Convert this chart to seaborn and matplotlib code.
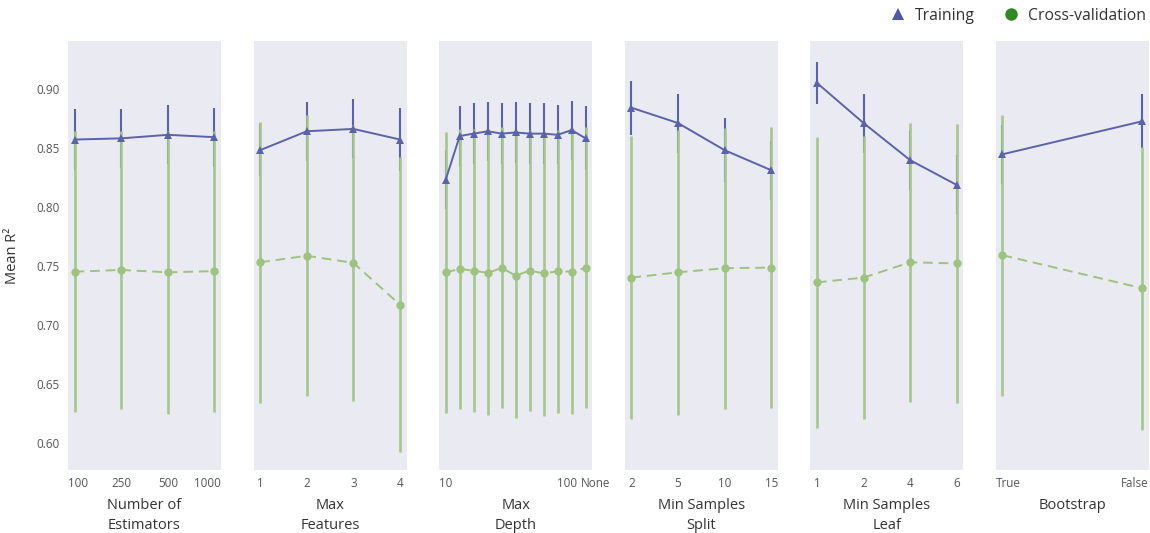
import numpy as np
import pandas as pd
import matplotlib
matplotlib.use("Agg")
import matplotlib.pyplot as plt
from matplotlib.lines import Line2D
from matplotlib.transforms import Affine2D
import seaborn as sns

# ---------------- data ----------------
panel_titles = ["Number of\nEstimators", "Max\nFeatures", "Max\nDepth",
                "Min Samples\nSplit", "Min Samples\nLeaf", "Bootstrap"]

est_labels = ["100", "250", "500", "1000"]
est_train = [0.857, 0.858, 0.861, 0.859]
est_train_err = [0.026, 0.025, 0.025, 0.025]
est_cv = [0.745, 0.7465, 0.7445, 0.7455]
est_cv_err = [0.119, 0.118, 0.120, 0.119]

feat_labels = ["1", "2", "3", "4"]
feat_train = [0.848, 0.864, 0.866, 0.857]
feat_train_err = [0.022, 0.025, 0.025, 0.027]
feat_cv = [0.753, 0.7585, 0.7525, 0.717]
feat_cv_err = [0.119, 0.119, 0.117, 0.125]

depth_labels = ["10", "20", "30", "40", "50", "60", "70", "80", "90", "100", "None"]
depth_shown = ["10", "100", "None"]
depth_train = [0.823, 0.860, 0.862, 0.864, 0.862, 0.863, 0.862, 0.862, 0.861, 0.865, 0.858]
depth_train_err = [0.025, 0.025, 0.026, 0.025, 0.026, 0.026, 0.026, 0.026, 0.025, 0.025, 0.027]
depth_cv = [0.7445, 0.7473, 0.7459, 0.7440, 0.7482, 0.7417, 0.7459, 0.7436, 0.7453, 0.7451, 0.7482]
depth_cv_err = [0.119, 0.119, 0.120, 0.120, 0.119, 0.121, 0.119, 0.121, 0.120, 0.121, 0.119]

split_labels = ["2", "5", "10", "15"]
split_train = [0.884, 0.871, 0.848, 0.831]
split_train_err = [0.023, 0.025, 0.027, 0.025]
split_cv = [0.740, 0.7445, 0.748, 0.7485]
split_cv_err = [0.120, 0.121, 0.119, 0.119]

leaf_labels = ["1", "2", "4", "6"]
leaf_train = [0.905, 0.871, 0.8395, 0.8185]
leaf_train_err = [0.0175, 0.025, 0.025, 0.025]
leaf_cv = [0.736, 0.740, 0.753, 0.752]
leaf_cv_err = [0.123, 0.120, 0.118, 0.118]

boot_labels = ["True", "False"]
boot_train = [0.8445, 0.8725]
boot_train_err = [0.025, 0.023]
boot_cv = [0.759, 0.731]
boot_cv_err = [0.119, 0.120]

y_ticks = [0.60, 0.65, 0.70, 0.75, 0.80, 0.85, 0.90]

panels = [
    (est_labels, est_labels, est_train, est_train_err, est_cv, est_cv_err),
    (feat_labels, feat_labels, feat_train, feat_train_err, feat_cv, feat_cv_err),
    (depth_labels, depth_shown, depth_train, depth_train_err, depth_cv, depth_cv_err),
    (split_labels, split_labels, split_train, split_train_err, split_cv, split_cv_err),
    (leaf_labels, leaf_labels, leaf_train, leaf_train_err, leaf_cv, leaf_cv_err),
    (boot_labels, boot_labels, boot_train, boot_train_err, boot_cv, boot_cv_err),
]

# ---------------- style ----------------
sns.set_style("dark")
plt.rcParams["font.family"] = ["Open Sans", "DejaVu Sans"]

BLUE = "#5a63a9"
GREEN = "#a5c78c"
GREEN_MK = "#9ec37f"
TXT = "#333333"
TICK = "#555555"

fig, axes = plt.subplots(1, 6, figsize=(11.5, 5.33), dpi=100, sharey=True)
fig.subplots_adjust(left=0.0591, right=0.9991, bottom=0.1182, top=0.9231, wspace=0.2125)

for i, (ax, (labels, shown, tr, tr_e, cv, cv_e)) in enumerate(zip(axes, panels)):
    n = len(labels)
    df = pd.DataFrame({
        "pos": np.arange(n),
        "train": tr, "train_err": tr_e,
        "cv": cv, "cv_err": cv_e,
    })
    # error bars
    ax.vlines(df["pos"], df["train"] - df["train_err"], df["train"] + df["train_err"],
              color=BLUE, lw=1.5, zorder=1)
    ax.vlines(df["pos"], df["cv"] - df["cv_err"], df["cv"] + df["cv_err"],
              color=GREEN, lw=1.9, zorder=2)
    # lines
    sns.lineplot(data=df, x="pos", y="train", ax=ax, color=BLUE, marker="^",
                 markersize=5.8, markeredgewidth=0, linewidth=1.4, zorder=3)
    sns.lineplot(data=df, x="pos", y="cv", ax=ax, color=GREEN_MK, marker="o",
                 markersize=6, markeredgewidth=0, linewidth=1.4, linestyle=(0, (5, 3)),
                 zorder=4)
    pad = 0.047 * (n - 1)
    ax.set_xlim(-pad, n - 1 + pad)
    ticks = [labels.index(s) for s in shown]
    ax.set_xticks(ticks)
    ax.set_xticklabels(shown)
    ax.set_xlabel(panel_titles[i], fontsize=10.5, color=TXT, labelpad=6, linespacing=1.4)
    ax.tick_params(axis="x", length=0, pad=5, labelsize=8.4, labelcolor=TICK)
    ax.tick_params(axis="y", length=0, pad=6, labelsize=8.4, labelcolor=TICK)
    ax.set_ylabel("")
    for s in ax.spines.values():
        s.set_visible(False)

axes[0].set_ylim(0.577, 0.9405)
axes[0].set_yticks(y_ticks)
axes[0].set_yticklabels([f"{v:.2f}" for v in y_ticks])
axes[0].set_ylabel("Mean R²", fontsize=10.5, color=TXT, labelpad=12)
for ax in axes[1:]:
    ax.tick_params(axis="y", labelleft=False)

# legend
handles = [
    Line2D([], [], color="#4e58a6", marker="^", linestyle="", markersize=8.5, markeredgewidth=0),
    Line2D([], [], color="#2f8a24", marker="o", linestyle="", markersize=9, markeredgewidth=0),
]
fig.legend(handles, ["Training", "Cross-validation"], loc="upper right",
           bbox_to_anchor=(1.009, 1.012), ncol=2, frameon=False, fontsize=11.3,
           handletextpad=0.1, columnspacing=1.3, labelcolor=TXT)

# keep tick labels inside their panel and apart from each other
fig.canvas.draw()
renderer = fig.canvas.get_renderer()
for i, ax in enumerate(axes):
    axbb = ax.get_window_extent(renderer)
    lbls = [l for l in ax.get_xticklabels() if l.get_text()]
    boxes = [l.get_window_extent(renderer) for l in lbls]
    shifts = [0.0] * len(lbls)
    clamp = i != 2
    if clamp:
        if boxes[0].x0 < axbb.x0:
            shifts[0] = axbb.x0 - boxes[0].x0
        if boxes[-1].x1 > axbb.x1:
            shifts[-1] = axbb.x1 - boxes[-1].x1
    for k in range(len(lbls) - 1):
        a = boxes[k].x1 + shifts[k]
        b = boxes[k + 1].x0 + shifts[k + 1]
        gap = 4
        if a + gap > b:
            ov = a + gap - b
            if clamp:
                shifts[k] -= ov
            else:
                shifts[k] -= ov * 0.3
                shifts[k + 1] += ov * 0.7
    for l, dx in zip(lbls, shifts):
        if dx:
            l.set_transform(l.get_transform() + Affine2D().translate(dx, 0))

fig.savefig("out.png", dpi=100)
